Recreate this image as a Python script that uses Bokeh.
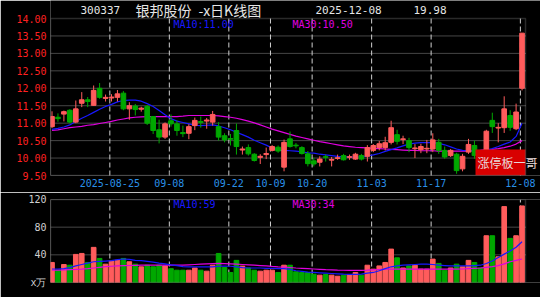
from bokeh.plotting import figure
from bokeh.layouts import column
from bokeh.models import FixedTicker, Label, BoxAnnotation, ColumnDataSource, PrintfTickFormatter, Range1d
from bokeh.embed import file_html
from bokeh.resources import INLINE

# ---------------- data ----------------
tick_idx = [10, 20, 30, 37, 44, 54, 64, 79]
tick_labels = ["2025-08-25", "09-08", "09-22", "10-09", "10-20", "11-03", "11-17", "12-08"]

opens = [10.90, 11.17, 11.26, 11.37, 11.03, 11.57, 11.67, 11.51, 12.00, 11.71,
         11.72, 11.74, 11.86, 11.41, 11.49, 11.40, 11.48, 11.19, 10.81, 10.60,
         11.07, 10.98, 10.73, 10.71, 10.93, 11.05, 11.06, 11.03, 10.90, 10.64,
         10.56, 10.79, 10.23, 10.30, 10.11, 10.02, 10.10, 10.22, 10.31, 9.74,
         10.55, 10.37, 10.30, 10.12, 9.92, 9.88, 10.04, 9.94, 9.99, 10.07,
         10.02, 9.97, 10.07, 10.05, 10.22, 10.30, 10.30, 10.45, 10.67, 10.53,
         10.50, 10.27, 10.24, 10.26, 10.26, 10.45, 10.22, 10.07, 10.11, 9.69,
         10.17, 10.36, 10.10, 10.12, 11.08, 10.86, 10.87, 11.22, 10.84, 12.00]
highs = [11.34, 11.28, 11.36, 11.40, 11.65, 11.89, 11.75, 12.08, 12.15, 11.82,
         11.83, 11.95, 11.92, 11.60, 11.55, 11.47, 11.52, 11.20, 11.10, 11.02,
         11.25, 11.08, 10.93, 10.97, 11.16, 11.19, 11.15, 11.35, 11.03, 10.71,
         10.69, 10.99, 10.33, 10.39, 10.14, 10.11, 10.30, 10.37, 10.36, 10.53,
         10.76, 10.43, 10.34, 10.20, 10.01, 10.05, 10.10, 10.03, 10.10, 10.12,
         10.10, 10.15, 10.12, 10.37, 10.40, 10.49, 10.61, 11.07, 10.81, 10.64,
         10.58, 10.40, 10.41, 10.52, 10.71, 10.55, 10.33, 10.26, 10.15, 10.12,
         10.55, 10.50, 10.20, 10.81, 11.30, 11.00, 11.77, 11.37, 11.56, 13.58]
lows = [10.86, 11.04, 11.05, 11.00, 11.00, 11.46, 11.46, 11.50, 11.70, 11.62,
        11.62, 11.62, 11.37, 11.10, 11.22, 11.33, 10.95, 10.69, 10.42, 10.55,
        10.90, 10.64, 10.60, 10.54, 10.80, 10.87, 10.84, 10.93, 10.50, 10.45,
        10.36, 10.10, 10.10, 10.07, 9.90, 9.83, 9.97, 10.19, 10.15, 9.62,
        10.30, 10.28, 10.10, 9.76, 9.76, 9.76, 9.90, 9.76, 9.95, 9.93,
        9.95, 9.95, 9.93, 9.90, 10.17, 10.22, 10.22, 10.39, 10.39, 10.40,
        10.17, 10.00, 10.14, 10.14, 10.17, 10.12, 9.98, 10.03, 9.55, 9.62,
        10.12, 9.98, 9.95, 10.05, 10.72, 10.45, 10.72, 10.78, 10.80, 11.94]
closes = [11.19, 11.13, 11.33, 11.03, 11.41, 11.67, 11.62, 11.94, 11.74, 11.74,
          11.75, 11.84, 11.41, 11.50, 11.39, 11.43, 11.00, 10.79, 10.60, 10.98,
          10.98, 10.79, 10.70, 10.90, 11.08, 11.02, 11.09, 11.25, 10.60, 10.52,
          10.54, 10.33, 10.26, 10.12, 9.93, 10.05, 10.13, 10.33, 10.20, 10.45,
          10.33, 10.35, 10.13, 9.84, 9.83, 9.97, 10.02, 9.96, 10.01, 9.95,
          10.04, 10.11, 9.97, 10.30, 10.36, 10.41, 10.44, 10.87, 10.48, 10.55,
          10.30, 10.29, 10.33, 10.28, 10.52, 10.22, 10.03, 10.22, 9.64, 10.05,
          10.39, 10.07, 10.02, 10.77, 10.90, 10.88, 11.41, 10.88, 11.32, 13.58]
volumes = [29, 17.8, 26, 25, 40.6, 42, 29, 50.8, 34.8, 26.5,
           31, 32, 34.8, 30, 26.5, 22.7, 25, 22.7, 25, 24,
           20, 17.8, 17.8, 17.8, 21, 17.8, 16.4, 25, 42, 21.6,
           14.5, 32, 23.7, 21, 17.8, 16.4, 17.8, 17.8, 14.5, 25,
           25, 15.5, 14.5, 14.5, 12, 10.6, 11.6, 10.6, 9.1, 10.6,
           11.6, 14.5, 10.6, 25, 19.3, 24, 29, 48.3, 35.7, 21,
           24, 25, 19.3, 19.3, 33.8, 27.6, 17.8, 21, 26.5, 22.7,
           32, 29, 21, 67.6, 67.6, 37.2, 109.7, 63.8, 67.6, 110.7]
ma10 = [10.82, 10.85, 10.89, 10.95, 11.05, 11.14, 11.22, 11.31, 11.40, 11.48,
        11.54, 11.61, 11.65, 11.66, 11.66, 11.63, 11.56, 11.48, 11.36, 11.24,
        11.13, 11.06, 11.02, 10.98, 10.94, 10.93, 10.94, 10.95, 10.92, 10.87,
        10.81, 10.74, 10.67, 10.60, 10.51, 10.44, 10.37, 10.29, 10.23, 10.22,
        10.21, 10.20, 10.18, 10.15, 10.14, 10.11, 10.09, 10.07, 10.05, 10.04,
        10.03, 10.03, 10.03, 10.06, 10.09, 10.13, 10.19, 10.24, 10.29, 10.35,
        10.40, 10.43, 10.44, 10.44, 10.44, 10.42, 10.38, 10.32, 10.26, 10.22,
        10.21, 10.21, 10.22, 10.23, 10.27, 10.33, 10.40, 10.46, 10.62, 11.00]
ma30 = [10.79, 10.81, 10.84, 10.87, 10.89, 10.91, 10.94, 10.96, 10.99, 11.02,
        11.05, 11.09, 11.12, 11.15, 11.17, 11.18, 11.19, 11.19, 11.19, 11.19,
        11.19, 11.19, 11.20, 11.22, 11.22, 11.22, 11.22, 11.22, 11.21, 11.19,
        11.17, 11.14, 11.10, 11.06, 11.01, 10.95, 10.89, 10.83, 10.78, 10.73,
        10.68, 10.63, 10.59, 10.55, 10.51, 10.47, 10.44, 10.41, 10.38, 10.35,
        10.33, 10.31, 10.30, 10.29, 10.28, 10.27, 10.26, 10.25, 10.24, 10.23,
        10.22, 10.22, 10.21, 10.21, 10.21, 10.20, 10.20, 10.20, 10.20, 10.20,
        10.20, 10.21, 10.22, 10.24, 10.25, 10.27, 10.30, 10.34, 10.40, 10.50]
vma10 = [19.5, 19.5, 20, 21.5, 24, 26, 28, 30, 30.5, 31,
         31.5, 33, 34, 33.5, 32, 31.5, 30.5, 29.5, 28, 27,
         25.5, 24.5, 23, 22.7, 22.7, 22.7, 22.7, 22.7, 23.5, 23.7,
         23.5, 22.5, 21.5, 21, 21, 21, 20.5, 20.5, 20, 20,
         19, 17, 16, 15, 14.5, 14, 13.5, 13, 12.5, 12,
         11.8, 11.7, 12, 13.5, 14.5, 17, 20, 22.7, 24, 25,
         25.5, 26, 26.5, 26.5, 26, 25, 24.5, 24, 24, 24,
         24, 24.5, 25, 27.5, 31, 36, 41, 45.4, 51, 59]
vma30 = [17.8, 18, 18.3, 18.6, 18.9, 19.3, 20, 21, 22, 23,
         23.5, 24, 24.3, 24.6, 24.8, 25, 25, 25, 25, 25,
         25, 25, 25, 25.5, 26, 26.5, 27, 27.3, 27.6, 27.3,
         27, 26.5, 26, 25.5, 25, 24.5, 24, 23.3, 22.7, 22.3,
         21.7, 21, 20.5, 20, 19.5, 19, 18.5, 18.2, 17.9, 17.7,
         17.5, 17.4, 17.4, 17.8, 18.3, 18.8, 19.3, 19.3, 19.3, 19.3,
         19.3, 19.3, 19.3, 19.3, 19.3, 19.3, 19.3, 19.3, 19.3, 19.5,
         20, 20.5, 21, 22, 23, 24.5, 27, 30, 32, 34]

price_ticks = [9.5, 10.0, 10.5, 11.0, 11.5, 12.0, 12.5, 13.0, 13.5, 14.0]
vol_ticks = [0, 40, 80, 120]

# ---------------- layout constants ----------------
PXU = 5.95          # px per trading day
OFF = 0.28          # candle centre offset from date grid line
X0 = OFF - 1.5 / PXU
X1 = X0 + 475 / PXU          # right border of the chart (x = 525 px)
XR = X0 + 490 / PXU          # frame runs to the canvas edge (x = 540 px)
PMIN, PMAX = 9.5, 14.0
YTOP = PMAX + 18 * 4.5 / 157  # frame reaches the top of the canvas
UP = "#FF5C5C"
DOWN = "#00A800"
GRID = "#8C8C8C"
VGRID = "#D0D0D0"
MONO = "DejaVu Sans Mono"
CJK = "Noto Sans CJK SC"


def mx(px):
    return X0 + (px - 50) / PXU


def my(py):
    return PMAX - (py - 18) * 4.5 / 157


def vy(py):
    return 120 - (py - 199) * 120 / 83


n = len(closes)
xs = [i + OFF for i in range(n)]
colors = [UP if c >= o else DOWN for o, c in zip(opens, closes)]
tops = [max(o, c) for o, c in zip(opens, closes)]
bots = [min(o, c) for o, c in zip(opens, closes)]
src = ColumnDataSource(dict(x=xs, o=opens, h=highs, l=lows, c=closes, top=tops, bot=bots,
                            color=colors, vol=volumes, ma10=ma10, ma30=ma30,
                            vma10=vma10, vma30=vma30))
vsrc = ColumnDataSource(dict(x=tick_idx))

xr = Range1d(X0, XR)

# ---------------- price pane ----------------
p = figure(width=540, height=192, x_range=xr, y_range=Range1d(PMIN, YTOP),
           output_backend="svg", toolbar_location=None, title=None,
           min_border_left=50, min_border_right=0, min_border_top=0, min_border_bottom=17,
           background_fill_color="black", border_fill_color="black",
           outline_line_color=None)
p.grid.visible = False

p.yaxis.ticker = FixedTicker(ticks=price_ticks)
p.yaxis.formatter = PrintfTickFormatter(format="%.2f")
p.yaxis.major_label_text_color = "#FF2020"
p.yaxis.major_label_text_font = MONO
p.yaxis.major_label_text_font_size = "10px"
p.yaxis.major_tick_out = 0
p.yaxis.major_tick_in = 0
p.yaxis.minor_tick_line_color = None
p.yaxis.axis_line_color = None
p.yaxis.major_label_standoff = 4

p.xaxis.ticker = FixedTicker(ticks=tick_idx)
p.xaxis.major_label_overrides = {t: l for t, l in zip(tick_idx, tick_labels)}
p.xaxis.major_label_text_color = "#2A90E8"
p.xaxis.major_label_text_font = MONO
p.xaxis.major_label_text_font_size = "10px"
p.xaxis.major_tick_in = 4
p.xaxis.major_tick_out = 0
p.xaxis.major_tick_line_color = GRID
p.xaxis.minor_tick_line_color = None
p.xaxis.axis_line_color = None
p.xaxis.major_label_standoff = 3

# grid lines limited to the chart box
psrc = ColumnDataSource(dict(y=price_ticks[1:-1]))
p.segment(x0=X0, y0="y", x1=X1, y1="y", source=psrc, line_color=GRID, line_dash="1 1", line_width=1)
p.segment(x0="x", y0=PMIN, x1="x", y1=PMAX, source=vsrc, line_color=VGRID, line_dash="5 3", line_width=1)

p.line("x", "ma30", source=src, color="#E000E0", line_width=1.2)
p.line("x", "ma10", source=src, color="#1818FF", line_width=1.2)
p.segment(x0="x", y0="l", x1="x", y1="h", source=src, color="color", line_width=1)
p.vbar(x="x", width=0.78, top="top", bottom="bot", source=src,
       fill_color="color", line_color="color", line_width=1)

# header
hy = my(9.5)
for px, txt, font, size in [(80, "300337", MONO, "11px"),
                            (135, "银邦股份", CJK, "14px"),
                            (198, "-x日K线图", CJK, "14px"),
                            (315, "2025-12-08", MONO, "11px"),
                            (413, "19.98", MONO, "11px")]:
    p.add_layout(Label(x=mx(px), y=hy, text=txt, text_color="#E6E6E6", text_font=font,
                       text_font_size=size, text_baseline="middle"))

p.add_layout(Label(x=mx(173), y=my(23.5), text="MA10:11.00", text_color="#1818FF", text_font=MONO,
                   text_font_size="10px", text_baseline="middle"))
p.add_layout(Label(x=mx(292), y=my(23.5), text="MA30:10.50", text_color="#E000E0", text_font=MONO,
                   text_font_size="10px", text_baseline="middle"))

p.add_layout(BoxAnnotation(left=mx(475), right=X1, bottom=PMIN, top=my(149),
                           fill_color="#D80000", fill_alpha=1.0, line_alpha=0))
p.add_layout(BoxAnnotation(left=X0, right=X1, bottom=PMIN, top=PMAX, fill_alpha=0,
                           line_color=GRID, line_width=1.5))
p.add_layout(Label(x=mx(477), y=my(162), text="涨停板一哥", text_color="#E8D8D8",
                   text_font=CJK, text_font_size="12px", text_baseline="middle"))

# ---------------- volume pane ----------------
v = figure(width=540, height=105, x_range=xr, y_range=Range1d(0, 120),
           output_backend="svg", toolbar_location=None, title=None,
           min_border_left=50, min_border_right=0, min_border_top=7, min_border_bottom=15,
           background_fill_color="black", border_fill_color="black",
           outline_line_color=None)
v.grid.visible = False
v.xaxis.visible = False
v.yaxis.ticker = FixedTicker(ticks=vol_ticks)
v.yaxis.major_label_overrides = {0: "x万"}
v.yaxis.major_label_text_color = "#D0D0D0"
v.yaxis.major_label_text_font = MONO
v.yaxis.major_label_text_font_size = "10px"
v.yaxis.major_tick_out = 0
v.yaxis.major_tick_in = 0
v.yaxis.minor_tick_line_color = None
v.yaxis.axis_line_color = None
v.yaxis.major_label_standoff = 4

gsrc = ColumnDataSource(dict(y=vol_ticks[1:-1]))
v.segment(x0=X0, y0="y", x1=X1, y1="y", source=gsrc, line_color=GRID, line_dash="1 1", line_width=1)
v.segment(x0="x", y0=0, x1="x", y1=120, source=vsrc, line_color=VGRID, line_dash="5 3", line_width=1)

v.vbar(x="x", width=0.78, top="vol", bottom=0, source=src,
       fill_color="color", line_color="color", line_width=1)
v.line("x", "vma30", source=src, color="#E000E0", line_width=1.2)
v.line("x", "vma10", source=src, color="#1818FF", line_width=1.2)
v.add_layout(BoxAnnotation(left=X0, right=X1, bottom=0, top=120, fill_alpha=0,
                           line_color=GRID, line_width=1.5))

v.add_layout(Label(x=mx(173), y=vy(204), text="MA10:59", text_color="#1818FF", text_font=MONO,
                   text_font_size="10px", text_baseline="middle"))
v.add_layout(Label(x=mx(292), y=vy(204), text="MA30:34", text_color="#E000E0", text_font=MONO,
                   text_font_size="10px", text_baseline="middle"))

layout = column(p, v, spacing=0)
open("out.html", "w").write(file_html(layout, INLINE))
